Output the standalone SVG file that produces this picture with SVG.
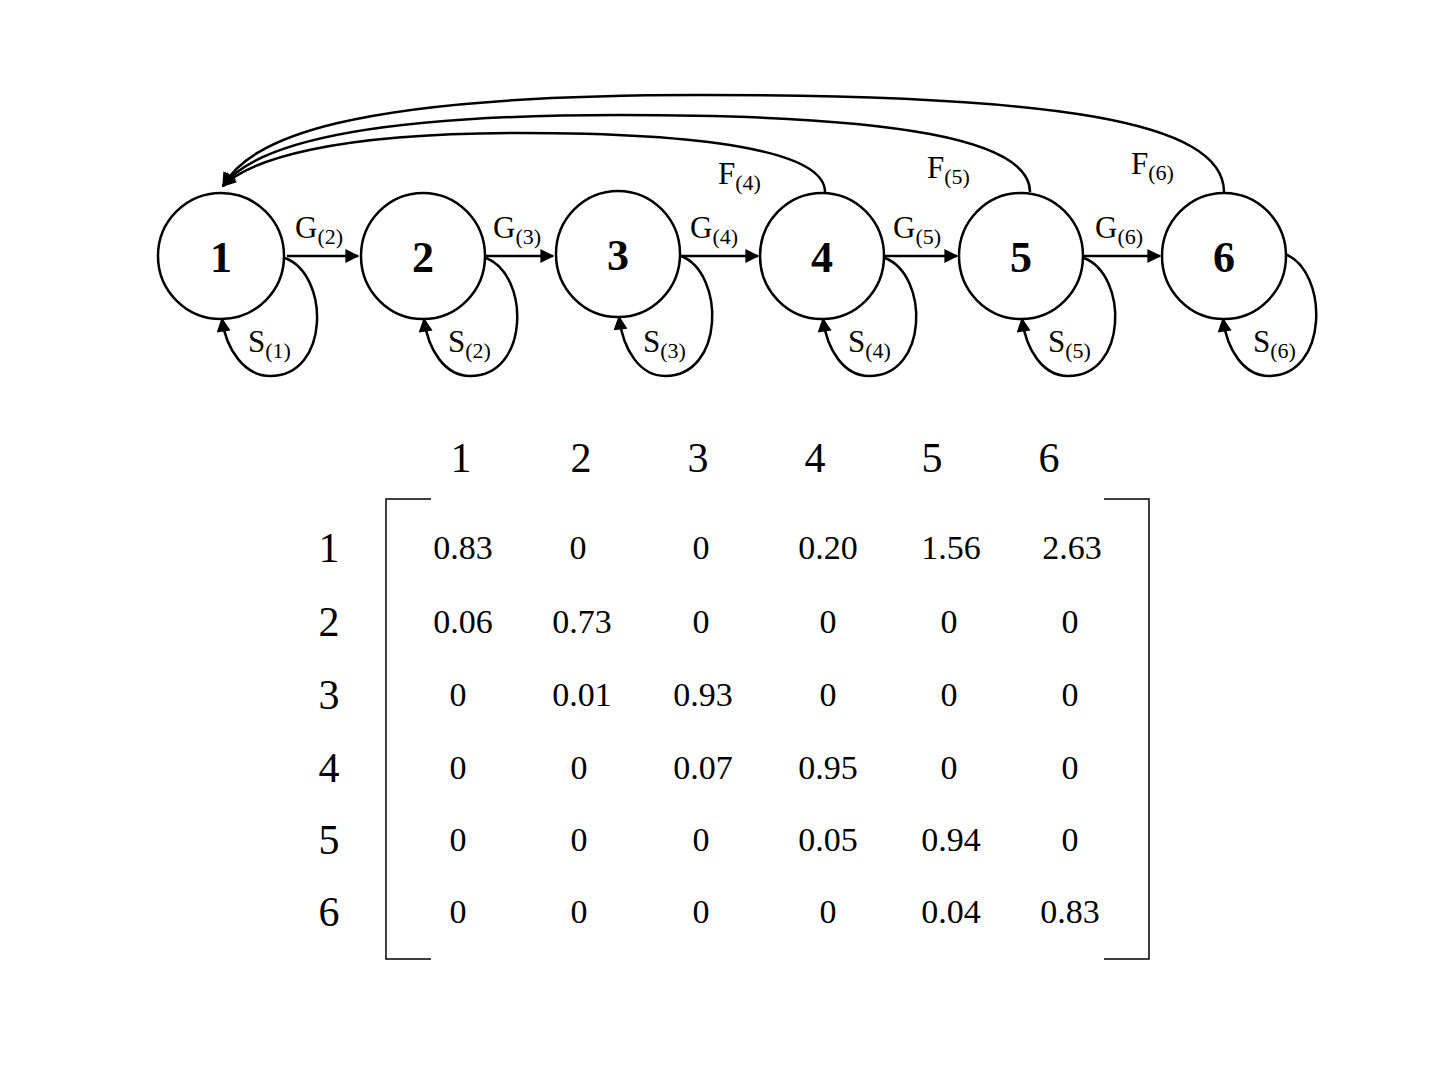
<svg xmlns="http://www.w3.org/2000/svg" width="1448" height="1086" viewBox="0 0 1448 1086">
<style>
.n{fill:#fff;stroke:#000;stroke-width:2.5}
.c{fill:none;stroke:#000;stroke-width:2.5}
.t{font-family:"Liberation Serif","DejaVu Serif",serif;fill:#000}
.nl{font-size:44px;font-weight:bold;text-anchor:middle}
.el{font-size:31px}
.sub{font-size:22px}
.m{font-size:34px;text-anchor:middle}
.h{font-size:42px;text-anchor:middle}
</style>
<defs><marker id="b" viewBox="0 0 10 10" refX="9" refY="5" markerWidth="16" markerHeight="14" markerUnits="userSpaceOnUse" orient="auto"><path d="M0,0L10,5L0,10z"/></marker></defs>
<rect width="1448" height="1086" fill="#fff"/>
<g id="connectors">
<path class="c" marker-end="url(#b)" d="M287,256H358"/>
<path class="c" marker-end="url(#b)" d="M486,256H553"/>
<path class="c" marker-end="url(#b)" d="M681,256H758"/>
<path class="c" marker-end="url(#b)" d="M885,256H957"/>
<path class="c" marker-end="url(#b)" d="M1084,256H1160"/>
<path class="c" marker-end="url(#b)" d="M825,192C825,150 700,133 520,133C330,133 250,160 223,186"/>
<path class="c" marker-end="url(#b)" d="M1030,192C1030,140 900,115 620,115C340,115 250,150 223,186"/>
<path class="c" marker-end="url(#b)" d="M1224,192C1224,120 1050,95 700,95C340,95 250,140 223,186"/>
<g id="loops">
<path class="c" marker-end="url(#b)" d="M285,258C330,275 330,376 270,376C245,376 226,350 222,319"/>
<path class="c" marker-end="url(#b)" d="M486,258C530,275 530,376 470,376C445,376 428,350 424,319"/>
<path class="c" marker-end="url(#b)" d="M681,256C725,273 725,376 665,376C640,376 623,350 619,317"/>
<path class="c" marker-end="url(#b)" d="M885,258C929,275 929,376 869,376C844,376 827,350 823,319"/>
<path class="c" marker-end="url(#b)" d="M1084,258C1128,275 1128,376 1068,376C1043,376 1026,350 1022,319"/>
<path class="c" marker-end="url(#b)" d="M1285,254C1329,271 1329,376 1269,376C1244,376 1227,350 1223,319"/>
</g>
</g>
<g id="edge-labels" class="t">
<text x="295" y="238" class="el">G<tspan class="sub" dy="6">(2)</tspan></text>
<text x="493" y="238" class="el">G<tspan class="sub" dy="6">(3)</tspan></text>
<text x="690" y="238" class="el">G<tspan class="sub" dy="6">(4)</tspan></text>
<text x="893" y="238" class="el">G<tspan class="sub" dy="6">(5)</tspan></text>
<text x="1095" y="238" class="el">G<tspan class="sub" dy="6">(6)</tspan></text>
<text x="718" y="184" class="el">F<tspan class="sub" dy="6">(4)</tspan></text>
<text x="927" y="178" class="el">F<tspan class="sub" dy="6">(5)</tspan></text>
<text x="1131" y="174" class="el">F<tspan class="sub" dy="6">(6)</tspan></text>
<text x="248" y="352" class="el">S<tspan class="sub" dy="6">(1)</tspan></text>
<text x="448" y="352" class="el">S<tspan class="sub" dy="6">(2)</tspan></text>
<text x="643" y="352" class="el">S<tspan class="sub" dy="6">(3)</tspan></text>
<text x="848" y="352" class="el">S<tspan class="sub" dy="6">(4)</tspan></text>
<text x="1048" y="352" class="el">S<tspan class="sub" dy="6">(5)</tspan></text>
<text x="1253" y="352" class="el">S<tspan class="sub" dy="6">(6)</tspan></text>
</g>
<g id="node1"><ellipse class="n" cx="221" cy="256" rx="63" ry="63"/><text class="t nl" x="221" y="272">1</text></g>
<g id="node2"><ellipse class="n" cx="423" cy="256" rx="62" ry="63"/><text class="t nl" x="423" y="272">2</text></g>
<g id="node3"><ellipse class="n" cx="618" cy="254" rx="62" ry="63"/><text class="t nl" x="618" y="270">3</text></g>
<g id="node4"><ellipse class="n" cx="822" cy="256" rx="62" ry="63"/><text class="t nl" x="822" y="272">4</text></g>
<g id="node5"><ellipse class="n" cx="1021" cy="256" rx="62" ry="63"/><text class="t nl" x="1021" y="272">5</text></g>
<g id="node6"><ellipse class="n" cx="1224" cy="256" rx="62" ry="63"/><text class="t nl" x="1224" y="272">6</text></g>
<g id="matrix" class="t">
<path fill="none" stroke="#000" stroke-width="1.5" d="M431,499H386V959H431M1104,499H1149V959H1104"/>
<g class="h"><text x="461" y="472">1</text><text x="581" y="472">2</text><text x="698" y="472">3</text><text x="815" y="472">4</text><text x="932" y="472">5</text><text x="1049" y="472">6</text>
<text x="329" y="562">1</text><text x="329" y="636">2</text><text x="329" y="709">3</text><text x="329" y="782">4</text><text x="329" y="854">5</text><text x="329" y="926">6</text></g>
<g class="m">
<text x="463" y="559">0.83</text><text x="578" y="559">0</text><text x="701" y="559">0</text><text x="828" y="559">0.20</text><text x="951" y="559">1.56</text><text x="1072" y="559">2.63</text>
<text x="463" y="633">0.06</text><text x="582" y="633">0.73</text><text x="701" y="633">0</text><text x="828" y="633">0</text><text x="949" y="633">0</text><text x="1070" y="633">0</text>
<text x="458" y="706">0</text><text x="582" y="706">0.01</text><text x="703" y="706">0.93</text><text x="828" y="706">0</text><text x="949" y="706">0</text><text x="1070" y="706">0</text>
<text x="458" y="779">0</text><text x="579" y="779">0</text><text x="703" y="779">0.07</text><text x="828" y="779">0.95</text><text x="949" y="779">0</text><text x="1070" y="779">0</text>
<text x="458" y="851">0</text><text x="579" y="851">0</text><text x="701" y="851">0</text><text x="828" y="851">0.05</text><text x="951" y="851">0.94</text><text x="1070" y="851">0</text>
<text x="458" y="923">0</text><text x="579" y="923">0</text><text x="701" y="923">0</text><text x="828" y="923">0</text><text x="951" y="923">0.04</text><text x="1070" y="923">0.83</text>
</g></g>
</svg>
